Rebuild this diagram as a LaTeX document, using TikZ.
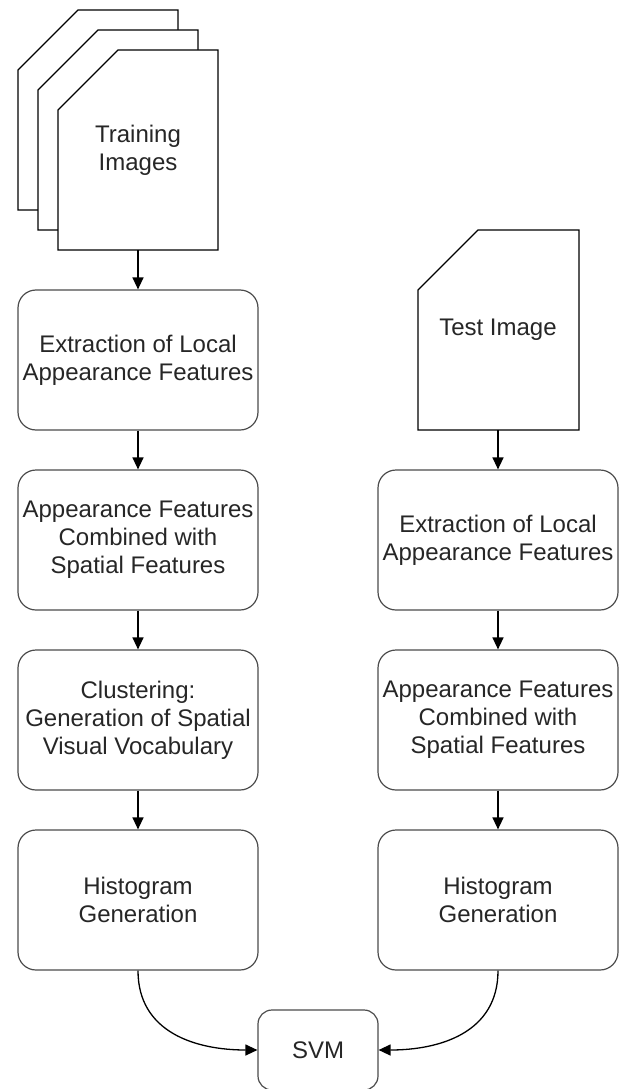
\documentclass[tikz,border=0pt]{standalone}
\usepackage{fontspec}
\setmainfont{Liberation Sans}
\usetikzlibrary{arrows.meta}

\begin{document}
\begin{tikzpicture}[x=1pt,y=-1pt,
  procbox/.style={draw=black!70, line width=1.2pt, rounded corners=18pt,
    minimum width=240pt, minimum height=140pt, inner sep=0pt, align=center,
    font=\fontsize{24}{28}\selectfont, text=black!85},
  doclabel/.style={minimum width=160pt, minimum height=200pt, inner sep=0pt,
    align=center, font=\fontsize{24}{28}\selectfont, text=black!85},
  docline/.style={line width=1.3pt, fill=white},
  flow/.style={-{Triangle[length=12pt,width=11pt]}, line width=1.3pt}
]
\useasboundingbox (0,0) rectangle (626,1089);

%training images (stack of documents)
\foreach \d in {0,20,40} {
  \draw[docline] (78+\d,10+\d) -- (178+\d,10+\d) -- (178+\d,210+\d)
    -- (18+\d,210+\d) -- (18+\d,70+\d) -- cycle;
}
\node[doclabel] (train) at (138,150) {Training\\Images};

%test image
\draw[docline] (478,230) -- (579,230) -- (579,430) -- (418,430) -- (418,290) -- cycle;
\node[doclabel] (test) at (498,330) {Test Image};

%left column
\node[procbox] (extL) at (138,360) {Extraction of Local\\Appearance Features};
\node[procbox] (combL) at (138,540) {Appearance Features\\Combined with\\Spatial Features};
\node[procbox] (clusL) at (138,720) {Clustering:\\Generation of Spatial\\Visual Vocabulary};
\node[procbox] (histL) at (138,900) {Histogram\\Generation};

%right column
\node[procbox] (extR) at (498,540) {Extraction of Local\\Appearance Features};
\node[procbox] (combR) at (498,720) {Appearance Features\\Combined with\\Spatial Features};
\node[procbox] (histR) at (498,900) {Histogram\\Generation};

%classifier
\node[procbox, minimum width=120pt, minimum height=80pt, rounded corners=14pt] (svm) at (318,1050) {SVM};

%connectors
\draw[flow] (train.south) -- (extL.north);
\draw[flow] (extL.south) -- (combL.north);
\draw[flow] (combL.south) -- (clusL.north);
\draw[flow] (clusL.south) -- (histL.north);
\draw[flow] (test.south) -- (extR.north);
\draw[flow] (extR.south) -- (combR.north);
\draw[flow] (combR.south) -- (histR.north);
\draw[flow] (histL.south) to[out=270,in=180,looseness=1.1] (svm.west);
\draw[flow] (histR.south) to[out=270,in=0,looseness=1.1] (svm.east);

\end{tikzpicture}
\end{document}
